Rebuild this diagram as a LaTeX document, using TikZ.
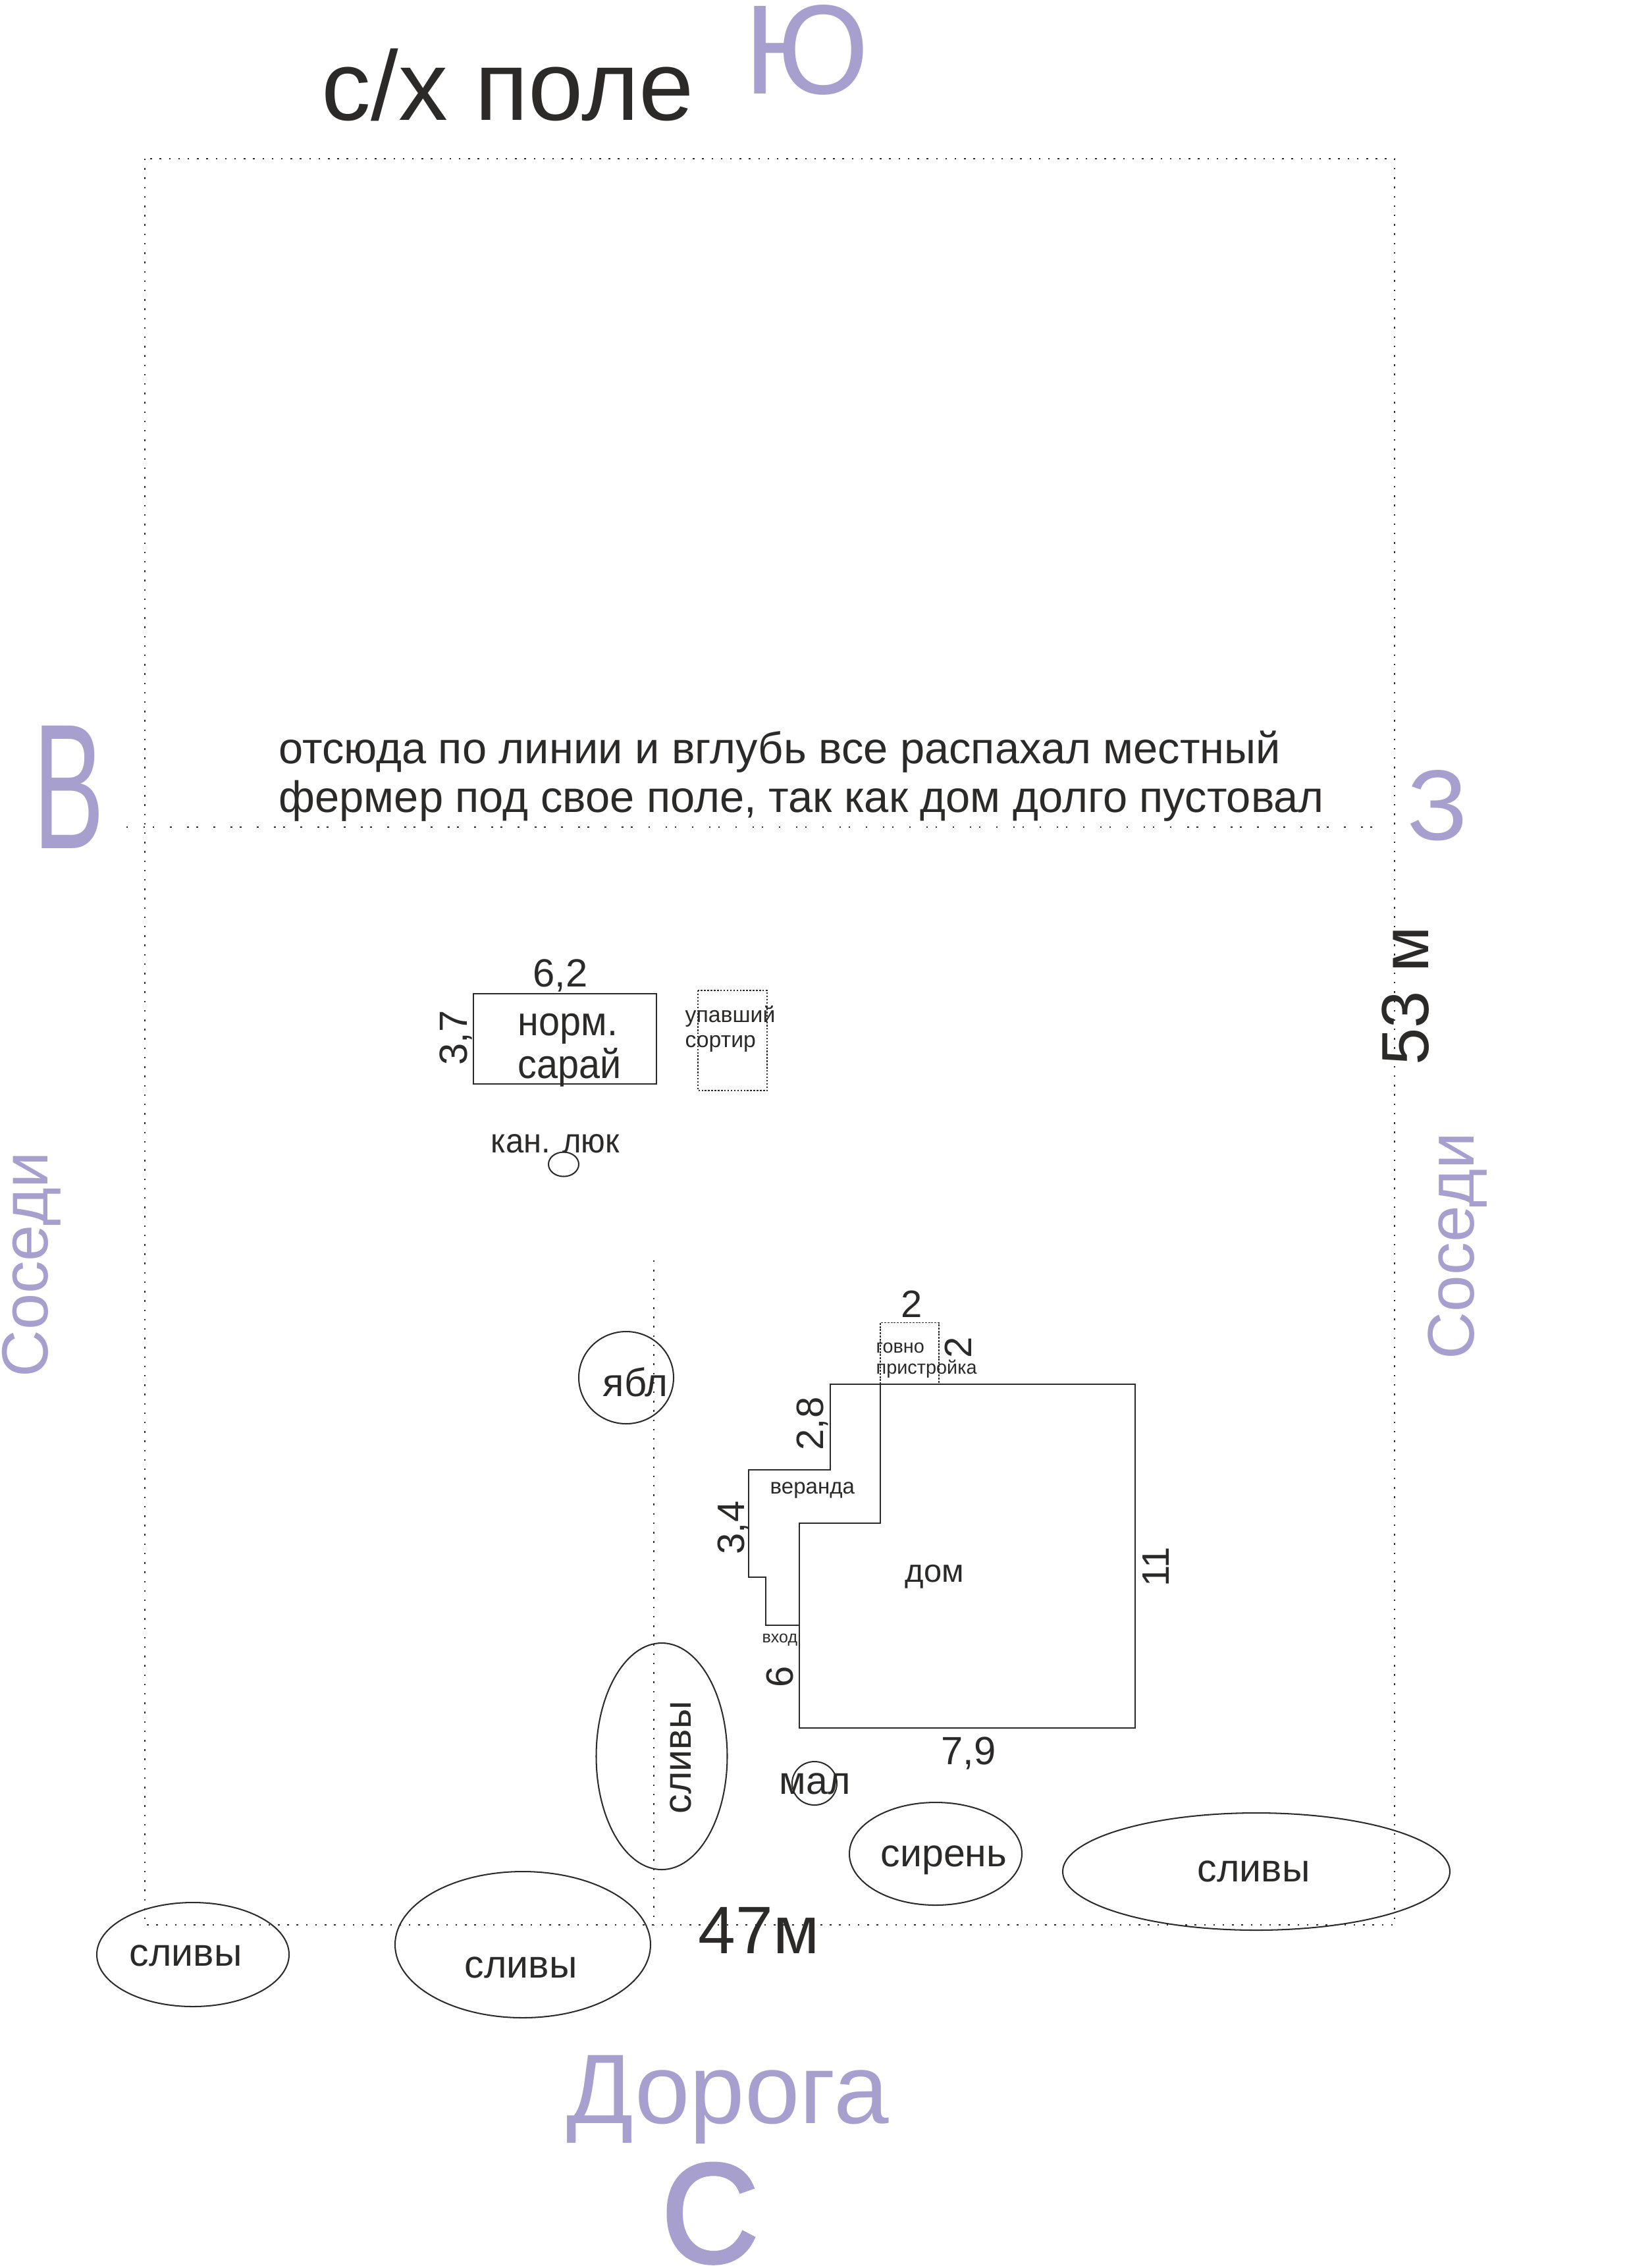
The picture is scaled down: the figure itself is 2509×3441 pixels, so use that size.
\documentclass[tikz,border=0pt]{standalone}
\usepackage{graphicx,fontspec}
\setmainfont{Liberation Sans}
\newfontfamily\heavyfont{Liberation Sans}[FakeBold=2.5]
\definecolor{ink}{HTML}{2B2A29}
\definecolor{lilac}{HTML}{A79FCE}
\newcommand{\narrow}[2]{\scalebox{#1}[1]{#2}}
\tikzset{
  lbl/.style={font=\fontsize{#1pt}{#1pt}\selectfont,inner sep=0pt,anchor=base west,text=ink},
  side/.style={lbl=#1,text=lilac},
  wall/.style={draw=ink,line width=.72pt},
  tree/.style={draw=ink,line width=.58pt},
  border/.style={draw=ink,line width=.7pt,dash pattern=on .7pt off 3.34pt},
  field/.style={draw=ink,line width=.7pt,dash pattern=on .7pt off 6.7pt on .7pt off 3.28pt on .7pt off 6.7pt},
  gone/.style={draw=ink,line width=.6pt,dash pattern=on .7pt off .7pt},
  annex/.style={draw=ink,line width=.5pt,dash pattern=on .85pt off .5pt},
}
\begin{document}
\begin{tikzpicture}[x=.01cm,y=-.01cm]
\useasboundingbox (0,0) rectangle (2509,3441);
% plot limits
\draw[border] (220,241) rectangle (2118,2923);
\draw[field] (192,1256) -- (2084,1256);
\draw[border] (993,1914) -- (993,2923);

% buildings
\draw[wall] (719,1509) rectangle (997,1646);
\draw[gone] (1060,1504) rectangle (1165,1656);
\draw[annex] (1337,2102) -- (1337,2008.5) -- (1426,2008.5) -- (1426,2102);
\draw[wall] (1261,2102) -- (1724,2102) -- (1724,2624) -- (1214,2624) -- (1214,2313)
  -- (1337,2313) -- (1337,2102);
\draw[wall] (1330,2102) -- (1261,2102) -- (1261,2232) -- (1137,2232) -- (1137,2395)
  -- (1163,2395) -- (1163,2468) -- (1214,2468);

% trees
\draw[tree] (856,1768) ellipse (23 and 18.5);
\draw[tree] (951,2092) ellipse (72 and 70);
\draw[tree] (1005,2667) ellipse (99.5 and 172);
\draw[tree] (1237,2708) ellipse (34 and 33);
\draw[tree] (1421,2815) ellipse (131 and 78);
\draw[tree] (1908,2842) ellipse (294 and 89);
\draw[tree] (293,2968) ellipse (146 and 79);
\draw[tree] (794,2953) ellipse (194 and 111);

% sides of the world
\node[side=55] (south) at (1130,142) {\narrow{.97}{Ю}};
\node[side=77] (east) at (50,1288) {\narrow{.6}{В}};
\node[side=43.2] (west) at (2137,1275) {З};
\node[side=61] (north) at (1004,3435) {\narrow{.95}{\heavyfont С}};
\node[side=42.7] (road) at (860,3224) {Дорога};
\node[side=28.2,rotate=90] (leftn) at (72,2092) {Соседи};
\node[side=28.4,rotate=90] (rightn) at (2238,2065) {Соседи};

% labels
\node[lbl=42.6] (farm) at (488,182) {с/х поле};
\node[lbl=19,align=left] (note) at (423,1233) {отсюда по линии и вглубь все распахал местный\\[1.9pt]фермер под свое поле, так как дом долго пустовал};
\node[lbl=28.8,rotate=90] (len) at (2169,1618) {53 м};
\node[lbl=29] (wid) at (1060,2966) {47м};

\node[lbl=17] (shedw) at (809,1498) {6,2};
\node[lbl=17,rotate=90] (shedh) at (709,1618) {3,7};
\node[lbl=17.6] (shedt) at (786,1572) {\narrow{.93}{норм.}};
\node[lbl=17.6] (shedb) at (786,1637) {\narrow{.93}{сарай}};
\node[lbl=9.6] (fallen) at (1040,1552) {упавший};
\node[lbl=9.6] (fallenb) at (1040,1590) {сортир};
\node[lbl=14.8] (hatch) at (745,1750) {\narrow{.94}{кан. люк}};

\node[lbl=16.5] (annexw) at (1368,2000) {2};
\node[lbl=16.5,rotate=90] (annexh) at (1475,2063) {2};
\node[lbl=8.2] (annext) at (1330,2054) {говно};
\node[lbl=8.2] (annexb) at (1330,2086) {пристройка};
\node[lbl=16.5,rotate=90] (stepa) at (1250,2203) {2,8};
\node[lbl=9.4] (veranda) at (1169,2268) {веранда};
\node[lbl=16.5,rotate=90] (stepb) at (1130,2361) {3,4};
\node[lbl=13.9] (house) at (1374,2402) {дом};
\node[lbl=16.5,rotate=90] (househ) at (1775,2410) {11};
\node[lbl=7.1] (entry) at (1157,2494) {вход};
\node[lbl=16.5,rotate=90] (entryh) at (1204,2563) {6};
\node[lbl=17] (housew) at (1429,2679) {7,9};

\node[lbl=17] (apple) at (915,2120) {ябл};
\node[lbl=16.8] (small) at (1183,2724) {мал};
\node[lbl=16.8] (lilacs) at (1337,2834) {сирень};
\node[lbl=16.8] (plumr) at (1818,2857) {сливы};
\node[lbl=16.8] (pluml) at (196,2985) {сливы};
\node[lbl=16.8] (plumm) at (705,3003) {сливы};
\node[lbl=16.8,rotate=90] (plumv) at (1049,2755) {сливы};
\end{tikzpicture}
\end{document}
